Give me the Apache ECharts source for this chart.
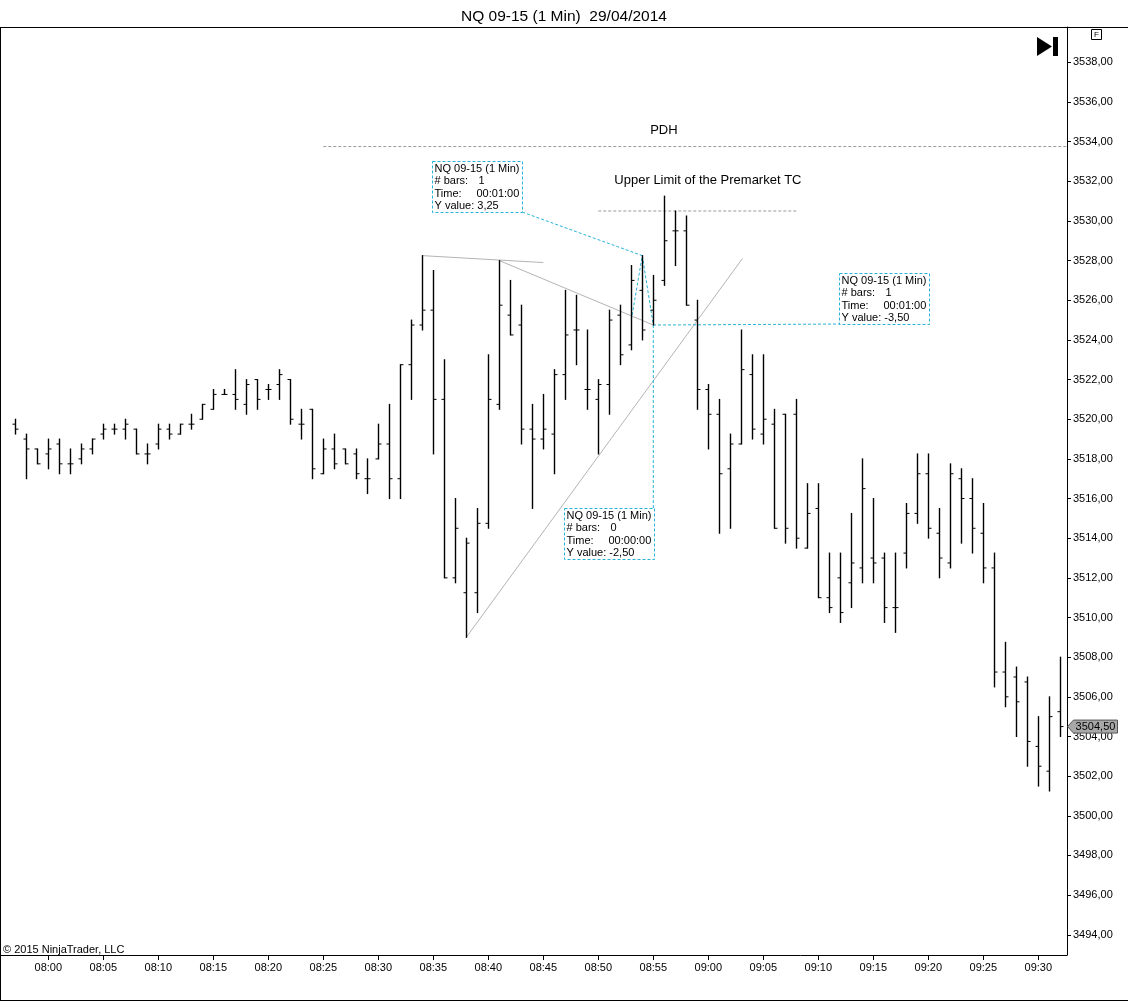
<!DOCTYPE html>
<html lang="en">
<head>
    <meta charset="UTF-8">
    <title>NQ 09-15 (1 Min)</title>
    <script src="https://cdn.jsdelivr.net/npm/echarts@6/dist/echarts.min.js"></script>
    <style>
        html, body {
            width: 100%;
            height: 100%;
            margin: 0;
            padding: 0;
            overflow: hidden;
            background-color: #fff;
        }
        #chart {
            width: 1128px;
            height: 1002px;
        }
    </style>
</head>
<body>
<div id="chart"></div>
<script>
    // 1-minute bars, 07:57 .. 09:32
    const barTimes = [
        '07:57','07:58','07:59','08:00','08:01','08:02','08:03','08:04','08:05','08:06',
        '08:07','08:08','08:09','08:10','08:11','08:12','08:13','08:14','08:15','08:16',
        '08:17','08:18','08:19','08:20','08:21','08:22','08:23','08:24','08:25','08:26',
        '08:27','08:28','08:29','08:30','08:31','08:32','08:33','08:34','08:35','08:36',
        '08:37','08:38','08:39','08:40','08:41','08:42','08:43','08:44','08:45','08:46',
        '08:47','08:48','08:49','08:50','08:51','08:52','08:53','08:54','08:55','08:56',
        '08:57','08:58','08:59','09:00','09:01','09:02','09:03','09:04','09:05','09:06',
        '09:07','09:08','09:09','09:10','09:11','09:12','09:13','09:14','09:15','09:16',
        '09:17','09:18','09:19','09:20','09:21','09:22','09:23','09:24','09:25','09:26',
        '09:27','09:28','09:29','09:30','09:31','09:32'
    ];
    const opens = [
        3519.75, 3519.0, 3518.5, 3518.25, 3518.75, 3517.75, 3518.0, 3518.5, 3519.25, 3519.5,
        3519.5, 3519.5, 3518.25, 3518.75, 3519.5, 3519.25, 3519.75, 3520.0, 3520.5, 3521.25,
        3521.25, 3520.75, 3522.0, 3521.5, 3521.75, 3522.0, 3519.75, 3520.5, 3517.25, 3518.5,
        3518.5, 3518.25, 3517.0, 3518.0, 3518.75, 3517.0, 3522.75, 3524.75, 3525.5, 3521.0,
        3512.0, 3511.25, 3511.25, 3514.75, 3520.75, 3525.25, 3524.75, 3519.5, 3519.0, 3519.25,
        3522.25, 3524.5, 3521.5, 3521.0, 3521.75, 3525.25, 3523.75, 3526.5, 3525.5, 3527.0,
        3529.5, 3529.5, 3525.0, 3521.5, 3520.25, 3517.5, 3518.75, 3522.25, 3519.25, 3519.75,
        3520.25, 3520.25, 3513.5, 3515.5, 3511.0, 3512.0, 3511.75, 3512.5, 3513.0, 3513.0,
        3510.5, 3513.25, 3515.25, 3517.25, 3514.25, 3512.75, 3517.0, 3516.0, 3514.25, 3512.5,
        3507.25, 3507.0, 3506.75, 3503.5, 3502.25, 3505.25
    ];
    const highs = [
        3520.0, 3519.25, 3518.5, 3519.0, 3519.0, 3518.5, 3518.75, 3519.0, 3519.75, 3519.75,
        3520.0, 3519.5, 3518.75, 3519.75, 3519.75, 3519.75, 3520.25, 3520.75, 3521.5, 3521.5,
        3522.5, 3522.0, 3522.0, 3521.75, 3522.5, 3522.0, 3520.5, 3520.5, 3519.0, 3519.25,
        3518.5, 3518.5, 3518.0, 3519.75, 3520.75, 3522.75, 3525.0, 3528.25, 3527.5, 3523.0,
        3516.0, 3514.0, 3515.5, 3523.25, 3528.0, 3527.0, 3525.75, 3520.75, 3521.25, 3522.5,
        3526.5, 3526.25, 3524.5, 3522.0, 3525.5, 3525.75, 3527.75, 3528.25, 3527.25, 3531.25,
        3530.5, 3530.25, 3526.0, 3521.75, 3521.0, 3519.25, 3524.5, 3523.25, 3523.25, 3520.5,
        3520.25, 3521.0, 3516.75, 3516.75, 3513.25, 3513.25, 3515.25, 3518.0, 3516.0, 3513.25,
        3513.25, 3515.75, 3518.25, 3518.25, 3515.5, 3517.75, 3517.5, 3517.0, 3515.75, 3513.25,
        3508.75, 3507.5, 3507.0, 3505.0, 3506.0, 3508.0
    ];
    const lows = [
        3519.25, 3517.0, 3517.75, 3517.5, 3517.25, 3517.25, 3517.75, 3518.25, 3519.0, 3519.25,
        3519.0, 3518.25, 3517.75, 3518.5, 3519.0, 3519.25, 3519.5, 3520.0, 3520.5, 3521.25,
        3520.5, 3520.25, 3520.5, 3521.0, 3521.0, 3519.75, 3519.0, 3517.0, 3517.25, 3517.5,
        3517.75, 3517.0, 3516.25, 3518.0, 3516.0, 3516.0, 3521.0, 3524.5, 3518.25, 3512.0,
        3511.75, 3509.0, 3510.25, 3514.5, 3520.5, 3524.25, 3518.75, 3515.5, 3518.5, 3517.25,
        3521.0, 3522.75, 3520.5, 3518.25, 3520.25, 3522.75, 3523.5, 3524.0, 3524.75, 3526.75,
        3527.75, 3525.75, 3520.5, 3518.5, 3514.25, 3514.5, 3518.75, 3519.0, 3518.75, 3514.5,
        3513.75, 3513.5, 3513.5, 3511.0, 3510.25, 3509.75, 3510.5, 3511.75, 3511.75, 3509.75,
        3509.25, 3512.5, 3514.75, 3514.0, 3512.0, 3512.5, 3513.75, 3513.25, 3511.75, 3506.5,
        3505.5, 3504.0, 3502.5, 3501.5, 3501.25, 3504.0
    ];
    const closes = [
        3519.5, 3518.5, 3517.75, 3518.5, 3517.75, 3517.75, 3518.5, 3519.0, 3519.5, 3519.5,
        3519.75, 3518.25, 3518.25, 3519.5, 3519.25, 3519.75, 3519.75, 3520.75, 3521.25, 3521.25,
        3521.0, 3521.75, 3521.0, 3521.5, 3522.25, 3520.0, 3519.75, 3517.5, 3518.5, 3517.75,
        3517.75, 3517.25, 3517.0, 3518.75, 3517.0, 3522.75, 3524.75, 3525.5, 3521.0, 3512.0,
        3514.5, 3513.75, 3514.75, 3521.0, 3525.75, 3524.25, 3519.5, 3519.0, 3519.5, 3522.25,
        3524.25, 3524.5, 3521.5, 3521.75, 3525.0, 3523.25, 3527.0, 3524.5, 3526.0, 3529.0,
        3529.5, 3525.75, 3521.5, 3520.25, 3517.25, 3518.75, 3522.5, 3519.5, 3520.0, 3514.5,
        3514.5, 3514.0, 3515.25, 3511.0, 3510.5, 3510.25, 3512.75, 3516.5, 3512.75, 3510.5,
        3510.5, 3515.25, 3517.25, 3514.5, 3513.0, 3517.25, 3516.0, 3514.5, 3512.5, 3507.25,
        3506.0, 3505.75, 3503.75, 3502.5, 3505.0, 3504.5
    ];

    // axis labels
    const timeTicks = ['08:00','08:05','08:10','08:15','08:20','08:25','08:30','08:35','08:40','08:45',
        '08:50','08:55','09:00','09:05','09:10','09:15','09:20','09:25','09:30'];
    const priceTicks = [3494, 3496, 3498, 3500, 3502, 3504, 3506, 3508, 3510, 3512, 3514, 3516,
        3518, 3520, 3522, 3524, 3526, 3528, 3530, 3532, 3534, 3536, 3538];
    const lastPrice = 3504.5;

    // drawn objects, [time, price]
    const pdhLine = [['08:25', 3533.75], ['09:32:36', 3533.75]];
    const tcLine = [['08:50', 3530.5], ['09:08:06', 3530.5]];
    const trendLines = [
        [['08:34', 3528.25], ['08:45', 3527.9]],
        [['08:41', 3528.0], ['08:55', 3524.75]],
        [['08:38', 3509.0], ['09:03:06', 3528.1]]
    ];
    const rulerLines = [
        [['08:53', 3525.0], ['08:54', 3528.25], ['08:43:04', 3530.45]],
        [['08:54', 3528.25], ['08:55', 3524.75], ['09:11:54', 3524.8]],
        [['08:55', 3524.75], ['08:55', 3515.5]]
    ];
    // ruler text boxes: top-left corner [time, price] and text rows
    const rulerBoxes = [
        { at: ['08:34:54', 3533.02], rows: [['NQ 09-15 (1 Min)'], ['# bars:', '1'], ['Time:', '00:01:00'], ['Y value: 3,25']] },
        { at: ['09:11:54', 3527.39], rows: [['NQ 09-15 (1 Min)'], ['# bars:', '1'], ['Time:', '00:01:00'], ['Y value: -3,50']] },
        { at: ['08:46:54', 3515.52], rows: [['NQ 09-15 (1 Min)'], ['# bars:', '0'], ['Time:', '00:00:00'], ['Y value: -2,50']] }
    ];
    const textNotes = [
        { at: ['08:55:58', 3534.58], text: 'PDH' },
        { at: ['08:59:58', 3532.06], text: 'Upper Limit of the Premarket TC' }
    ];

    const FONT = 'Liberation Sans, Arial, sans-serif';
    const CYAN = '#27b3d6';

    // 'hh:mm[:ss]' -> minutes after 08:00
    function toMin(s) {
        var p = s.split(':').map(Number);
        return (p[0] - 8) * 60 + p[1] + (p[2] || 0) / 60;
    }
    function fmtMin(m) {
        var h = 8 + Math.floor(m / 60), mm = Math.round(m - (h - 8) * 60);
        return (h < 10 ? '0' : '') + h + ':' + (mm < 10 ? '0' : '') + mm;
    }
    function pt(p) { return [toMin(p[0]), p[1]]; }

    var ohlc = barTimes.map(function (t, i) {
        return [toMin(t), opens[i], highs[i], lows[i], closes[i]];
    });

    // OHLC bar: high-low stroke, open tick left, close tick right
    function renderBar(params, api) {
        var t = api.value(0);
        var o = api.coord([t, api.value(1)]);
        var h = api.coord([t, api.value(2)]);
        var l = api.coord([t, api.value(3)]);
        var c = api.coord([t, api.value(4)]);
        var x = Math.round(h[0]) + 0.5;
        var st = { stroke: '#000', lineWidth: 1.4 };
        return {
            type: 'group',
            children: [
                { type: 'line', shape: { x1: x, y1: h[1] - 0.5, x2: x, y2: l[1] + 0.5 }, style: st },
                { type: 'line', shape: { x1: x - 3, y1: o[1], x2: x, y2: o[1] }, style: { stroke: '#000', lineWidth: 1 } },
                { type: 'line', shape: { x1: x, y1: c[1], x2: x + 3, y2: c[1] }, style: { stroke: '#000', lineWidth: 1 } }
            ]
        };
    }

    function lineSeries(points, color, dash, width) {
        return {
            type: 'line',
            data: points.map(pt),
            symbol: 'none',
            silent: true,
            animation: false,
            lineStyle: { color: color, width: width || 1, type: dash || 'solid' },
            z: 3
        };
    }

    var series = [{
        type: 'custom',
        name: 'NQ 09-15',
        renderItem: renderBar,
        data: ohlc,
        encode: { x: 0, y: [1, 2, 3, 4] },
        animation: false,
        z: 5
    }];
    series.push(lineSeries(pdhLine, '#999', [3, 2]));
    series.push(lineSeries(tcLine, '#999', [3, 2]));
    trendLines.forEach(function (l) { series.push(lineSeries(l, '#b4b4b4')); });
    rulerLines.forEach(function (l) { series.push(lineSeries(l, CYAN, [3, 2])); });

    var chart = echarts.init(document.getElementById('chart'));
    chart.setOption({
        backgroundColor: '#fff',
        animation: false,
        title: {
            text: 'NQ 09-15 (1 Min)  29/04/2014',
            left: 456,
            top: 4,
            textStyle: { fontFamily: FONT, fontSize: 15.5, fontWeight: 'normal', color: '#000' }
        },
        grid: { left: 1, right: 61, top: 27, bottom: 47 },
        xAxis: {
            type: 'value',
            min: -4.3,
            max: 92.61,
            axisLine: { onZero: false, lineStyle: { color: '#000', width: 1 } },
            axisTick: { length: 5, lineStyle: { color: '#000' }, customValues: timeTicks.map(toMin) },
            axisLabel: {
                customValues: timeTicks.map(toMin),
                formatter: fmtMin,
                color: '#000', fontFamily: FONT, fontSize: 11, margin: 7
            },
            splitLine: { show: false }
        },
        yAxis: {
            type: 'value',
            position: 'right',
            min: 3492.98,
            max: 3539.78,
            axisLine: { show: true, onZero: false, lineStyle: { color: '#000', width: 1 } },
            axisTick: { show: true, length: 4, lineStyle: { color: '#000' }, customValues: priceTicks },
            axisLabel: {
                customValues: priceTicks,
                formatter: function (v) { return v.toFixed(2).replace('.', ','); },
                color: '#000', fontFamily: FONT, fontSize: 11, margin: 6
            },
            splitLine: { show: false }
        },
        series: series
    });

    // frame, notes, ruler boxes and price marker, positioned through the axes
    function px(p) { return chart.convertToPixel({ gridIndex: 0 }, pt(p)); }
    var graphics = [
        { type: 'line', shape: { x1: 0, y1: 27.5, x2: 1128, y2: 27.5 }, style: { stroke: '#000', lineWidth: 1 } },
        { type: 'line', shape: { x1: 0.5, y1: 27, x2: 0.5, y2: 1001 }, style: { stroke: '#000', lineWidth: 1 } },
        { type: 'line', shape: { x1: 0, y1: 1000.5, x2: 1128, y2: 1000.5 }, style: { stroke: '#000', lineWidth: 1 } },
        { type: 'text', left: 3, top: 944, style: { text: '\u00a9 2015 NinjaTrader, LLC', font: '11px ' + FONT, fill: '#000' } },
        // "F" box and end-of-chart icon
        { type: 'rect', shape: { x: 1091.5, y: 29.5, width: 10, height: 10 }, style: { stroke: '#000', fill: '#fff', lineWidth: 1 } },
        { type: 'text', x: 1096.5, y: 35, style: { text: 'F', font: '8px ' + FONT, fill: '#000', align: 'center', verticalAlign: 'middle' } },
        { type: 'polygon', shape: { points: [[1037, 37], [1037, 56], [1052, 46.5]] }, style: { fill: '#000' } },
        { type: 'rect', shape: { x: 1053, y: 37, width: 5, height: 19 }, style: { fill: '#000' } }
    ];
    textNotes.forEach(function (n) {
        var p = px(n.at);
        graphics.push({ type: 'text', x: p[0], y: p[1], z: 10,
            style: { text: n.text, font: '13px ' + FONT, fill: '#000', align: 'center', verticalAlign: 'middle' } });
    });
    rulerBoxes.forEach(function (b) {
        var p = px(b.at);
        var x = Math.round(p[0]) + 0.5, y = Math.round(p[1]) + 0.5;
        var kids = [{ type: 'rect', shape: { x: 0, y: 0, width: 90, height: 51 },
            style: { fill: '#fff', stroke: CYAN, lineWidth: 1, lineDash: [3, 2] } }];
        b.rows.forEach(function (r, i) {
            kids.push({ type: 'text', x: 2, y: 7 + i * 12.6,
                style: { text: r[0], font: '11px ' + FONT, fill: '#000', verticalAlign: 'middle' } });
            if (r[1]) {
                kids.push({ type: 'text', x: r[1].length > 2 ? 44 : 46, y: 7 + i * 12.6,
                    style: { text: r[1], font: '11px ' + FONT, fill: '#000', verticalAlign: 'middle' } });
            }
        });
        graphics.push({ type: 'group', x: x, y: y, z: 20, children: kids });
    });
    var lp = chart.convertToPixel({ yAxisIndex: 0 }, lastPrice);
    var ax = 1067.5;
    graphics.push({
        type: 'polygon', z: 30,
        shape: { points: [[ax, lp], [ax + 6, lp - 6.5], [ax + 50, lp - 6.5], [ax + 50, lp + 6.5], [ax + 6, lp + 6.5]] },
        style: { fill: '#a8a8a8', stroke: '#555', lineWidth: 1 }
    });
    graphics.push({ type: 'text', x: ax + 28, y: lp, z: 31,
        style: { text: lastPrice.toFixed(2).replace('.', ','), font: '11px ' + FONT, fill: '#000', align: 'center', verticalAlign: 'middle' } });

    chart.setOption({ graphic: graphics });
</script>
</body>
</html>
